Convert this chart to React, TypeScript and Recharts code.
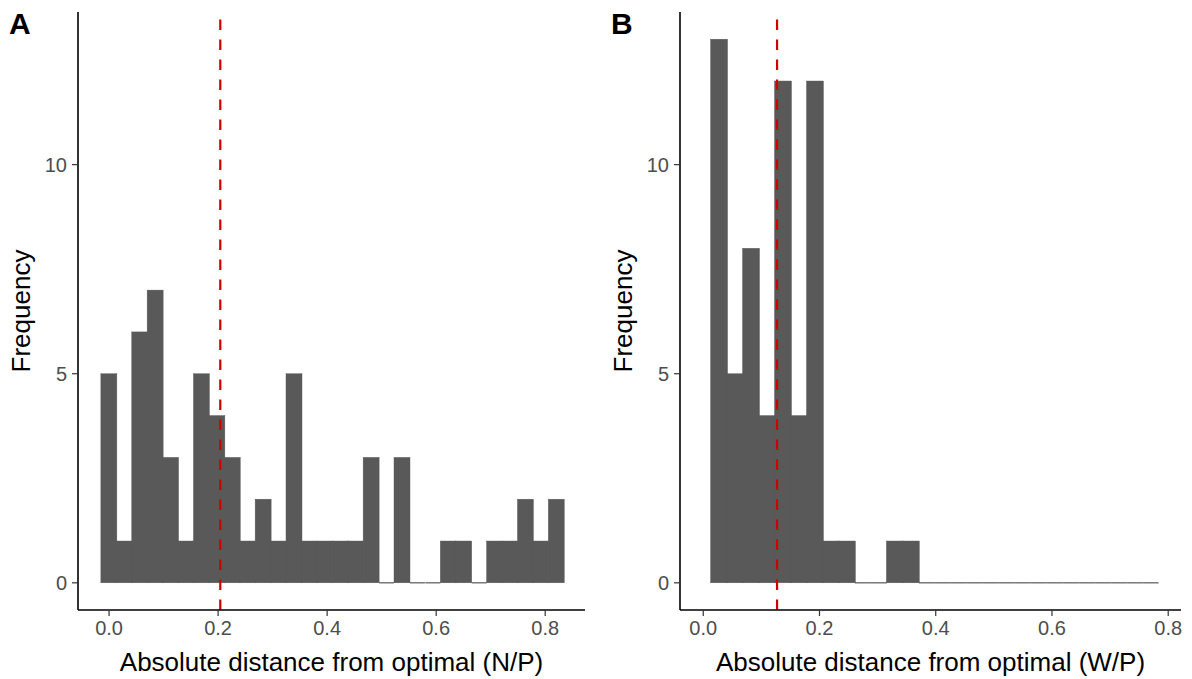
import { ComposedChart, Bar, XAxis, YAxis, ReferenceLine, Label } from 'recharts';

// bin centres
const binsA = [
  0.0, 0.0283, 0.0566, 0.0849, 0.1132, 0.1415, 0.1698, 0.1981, 0.2264, 0.2547,
  0.283, 0.3113, 0.3396, 0.3679, 0.3962, 0.4245, 0.4528, 0.4811, 0.5094, 0.5377,
  0.566, 0.5943, 0.6226, 0.6509, 0.6792, 0.7075, 0.7358, 0.7641, 0.7924, 0.8207,
];
const countsA = [5, 1, 6, 7, 3, 1, 5, 4, 3, 1, 2, 1, 5, 1, 1, 1, 1, 3, 0, 3, 0, 0, 1, 1, 0, 1, 1, 2, 1, 2];

const binsB = [
  0.0272, 0.0547, 0.0822, 0.1097, 0.1372, 0.1647, 0.1922, 0.2197, 0.2472, 0.2747,
  0.3022, 0.3297, 0.3572, 0.3847, 0.4122, 0.4397, 0.4672, 0.4947, 0.5222, 0.5497,
  0.5772, 0.6047, 0.6322, 0.6597, 0.6872, 0.7147, 0.7422, 0.7697,
];
const countsB = [13, 5, 8, 4, 12, 4, 12, 1, 1, 0, 0, 1, 1, 0, 0, 0, 0, 0, 0, 0, 0, 0, 0, 0, 0, 0, 0, 0];

const xTicks = [0, 0.2, 0.4, 0.6, 0.8];
const yTicks = [0, 5, 10];
const meanA = 0.204;
const meanB = 0.127;

const FONT = '"Liberation Sans", Arial, Helvetica, sans-serif';

// zero-count bins still show as a hairline, and neighbours overlap a bit to hide seams
const HistBar = (props: any) => {
  const { x, y, width, height } = props;
  if (height < 1) {
    return <rect x={x} y={y - 0.6} width={width} height={1.2} fill="#595959" />;
  }
  return (
    <rect
      x={x - 0.5}
      y={y}
      width={width + 1}
      height={height}
      fill="#595959"
      stroke="#595959"
      strokeWidth={0.4}
    />
  );
};

type PanelProps = {
  tag: string;
  bins: number[];
  counts: number[];
  domain: [number, number];
  mean: number;
  xTitle: string;
  yAxisWidth: number;
};

const Panel = ({ tag, bins, counts, domain, mean, xTitle, yAxisWidth }: PanelProps) => {
  const data = bins.map((b, i) => ({ x: b, n: counts[i] }));
  return (
    <div style={{ position: 'relative', width: 596, height: 679 }}>
      <ComposedChart
        width={596}
        height={679}
        data={data}
        margin={{ top: 12, right: 11, left: 0, bottom: 0 }}
        barCategoryGap={0}
        barGap={0}
      >
        <XAxis
          dataKey="x"
          type="number"
          domain={domain}
          allowDataOverflow
          ticks={xTicks}
          tickFormatter={(v: number) => v.toFixed(1)}
          height={69}
          axisLine={{ stroke: '#000', strokeWidth: 1.6 }}
          tickLine={{ stroke: '#333', strokeWidth: 1.2 }}
          tickSize={6}
          tickMargin={5}
          tick={{ fill: '#4d4d4d', fontSize: 20, fontFamily: FONT }}
        >
          <Label
            value={xTitle}
            position="insideBottom"
            offset={8}
            style={{ fill: '#000', fontSize: 26, fontFamily: FONT }}
          />
        </XAxis>
        <YAxis
          type="number"
          domain={[-0.65, 13.65]}
          allowDataOverflow
          ticks={yTicks}
          width={yAxisWidth}
          axisLine={{ stroke: '#000', strokeWidth: 1.6 }}
          tickLine={{ stroke: '#333', strokeWidth: 1.2 }}
          tickSize={6}
          tickMargin={5}
          tick={{ fill: '#4d4d4d', fontSize: 20, fontFamily: FONT }}
        >
          <Label
            value="Frequency"
            angle={-90}
            position="insideLeft"
            offset={yAxisWidth - 57}
            style={{ fill: '#000', fontSize: 26, fontFamily: FONT, textAnchor: 'middle' }}
          />
        </YAxis>
        <Bar dataKey="n" fill="#595959" shape={HistBar} isAnimationActive={false} />
        <ReferenceLine
          x={mean}
          stroke="#cc0000"
          strokeWidth={2.2}
          strokeDasharray="10.5 9.5"
        />
      </ComposedChart>
      <div
        style={{
          position: 'absolute',
          left: yAxisWidth - 69,
          top: 6,
          fontFamily: FONT,
          fontWeight: 'bold',
          fontSize: 30,
          lineHeight: '36px',
          color: '#000',
        }}
      >
        {tag}
      </div>
    </div>
  );
};

export default function App() {
  return (
    <div style={{ position: 'absolute', left: 0, top: 0, display: 'flex', width: 1192, height: 679, background: '#fff' }}>
      <Panel
        tag="A"
        bins={binsA}
        counts={countsA}
        domain={[-0.057, 0.873]}
        mean={meanA}
        xTitle="Absolute distance from optimal (N/P)"
        yAxisWidth={78}
      />
      <Panel
        tag="B"
        bins={binsB}
        counts={countsB}
        domain={[-0.04, 0.822]}
        mean={meanB}
        xTitle="Absolute distance from optimal (W/P)"
        yAxisWidth={84}
      />
    </div>
  );
}
